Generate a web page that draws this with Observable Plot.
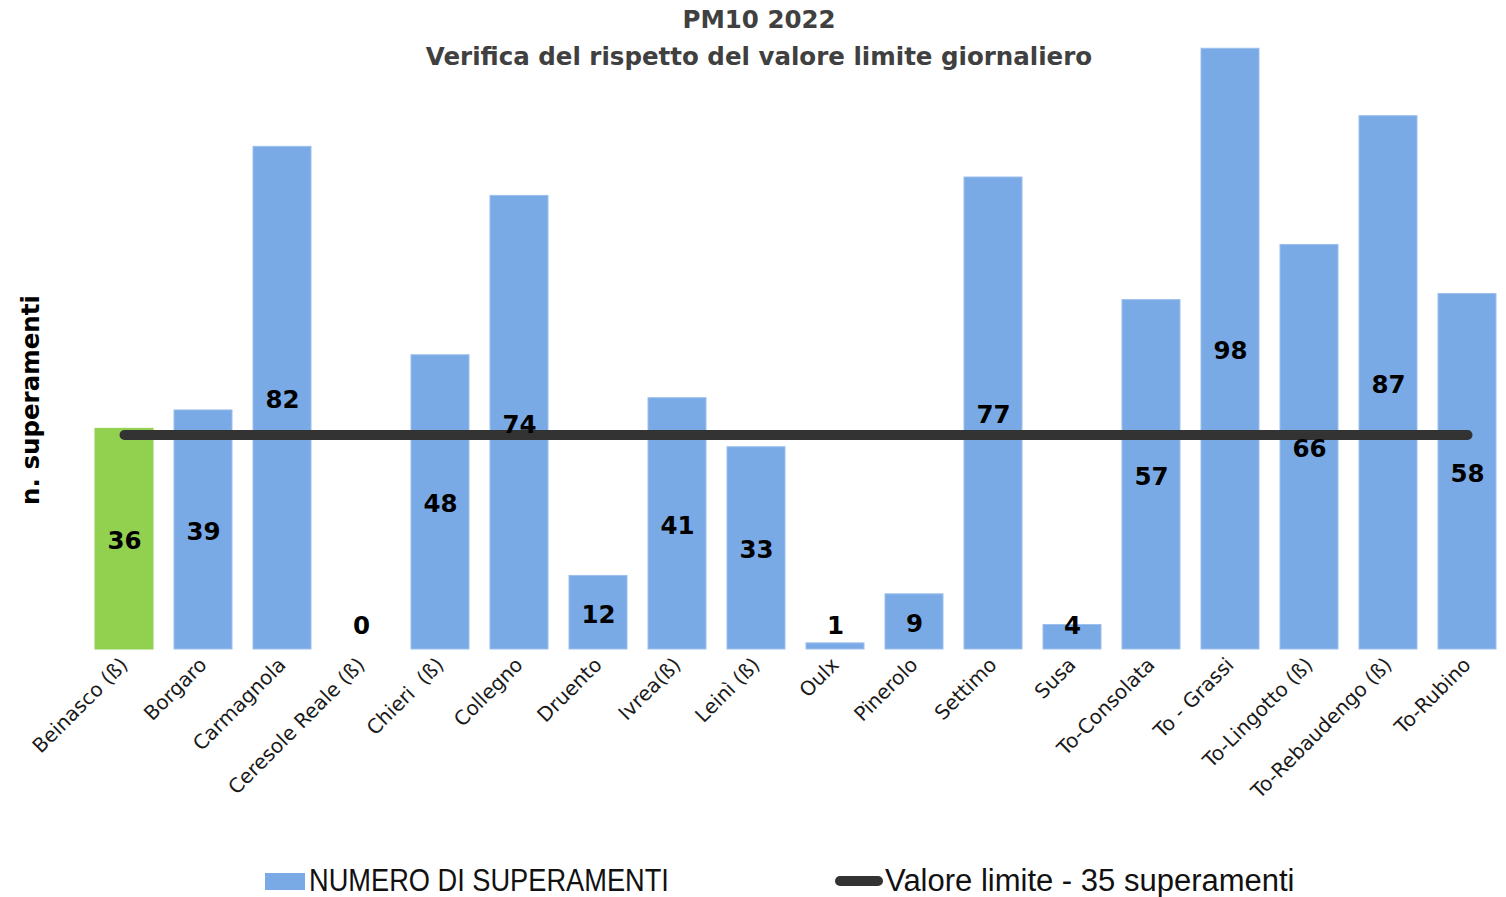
<!DOCTYPE html>
<html>
<head>
<meta charset="utf-8">
<script src="https://cdn.jsdelivr.net/npm/d3@7"></script>
<script src="https://cdn.jsdelivr.net/npm/@observablehq/plot@0.6"></script>
<style>
  html, body { margin: 0; padding: 0; background: #fff; }
  #wrap { position: relative; width: 1506px; height: 897px; overflow: hidden; }
  #title { position: absolute; left: 6px; width: 1506px; top: 1px; text-align: center;
           font-family: "DejaVu Sans", sans-serif; font-weight: bold; color: #404040;
           font-size: 24.5px; line-height: 37px; }
  #ylab { position: absolute; left: 30px; top: 400px; transform: translate(-50%, -50%) rotate(-90deg);
          white-space: nowrap; font-family: "DejaVu Sans", sans-serif; font-weight: bold; font-size: 24.5px; color: #000; }
  #legend { position: absolute; top: 862px; left: 0; width: 1506px; height: 35px;
            font-family: "Liberation Sans", sans-serif; font-size: 31px; color: #111; }
  .li { position: absolute; top: 0; display: flex; align-items: center; height: 38px; white-space: nowrap; }
  .sw-bar { width: 40px; height: 17px; background: #7AAAE5; margin-right: 4px; flex: none; }
  .sw-line { width: 48px; height: 10px; border-radius: 5px; background: #333; margin-right: 2px; flex: none; }
  #lg1 { display: inline-block; transform: scaleX(0.878); transform-origin: left center; }
</style>
</head>
<body>
<div id="wrap">
  <div id="chart"></div>
  <div id="title">PM10 2022<br>Verifica del rispetto del valore limite giornaliero</div>
  <div id="ylab">n. superamenti</div>
  <div id="legend">
    <div class="li" style="left:265px"><div class="sw-bar"></div><span id="lg1"></span></div>
    <div class="li" style="left:835px"><div class="sw-line"></div><span id="lg2"></span></div>
  </div>
</div>
<script>
const stations = ["Beinasco (ß)", "Borgaro", "Carmagnola", "Ceresole Reale (ß)", "Chieri\u00a0 (ß)", "Collegno",
  "Druento", "Ivrea(ß)", "Leinì (ß)", "Oulx", "Pinerolo", "Settimo", "Susa", "To-Consolata", "To - Grassi",
  "To-Lingotto (ß)", "To-Rebaudengo (ß)", "To-Rubino"];
const exceedances = [36, 39, 82, 0, 48, 74, 12, 41, 33, 1, 9, 77, 4, 57, 98, 66, 87, 58];
const limitValue = 35;
const highlighted = "Beinasco (ß)";
const seriesBars = "NUMERO DI SUPERAMENTI";
const seriesLine = "Valore limite - 35 superamenti";

document.getElementById("lg1").textContent = seriesBars;
document.getElementById("lg2").textContent = seriesLine;

const rows = stations.map((name, i) => ({name, value: exceedances[i]}));
const BLUE = "#7AAAE5", GREEN = "#92D050";

const chart = Plot.plot({
  width: 1506,
  height: 850,
  marginLeft: 84,
  marginRight: 0,
  marginTop: 36,
  marginBottom: 201,
  style: {fontFamily: "DejaVu Sans, sans-serif", background: "transparent", color: "#1a1a1a"},
  x: {domain: stations, paddingInner: 0.27, paddingOuter: 0.135},
  y: {domain: [0, 100], axis: null},
  marks: [
    Plot.barY(rows, {x: "name", y: "value", fill: d => d.name === highlighted ? GREEN : BLUE,
      stroke: d => d.name === highlighted ? GREEN : "#9CC0EC", strokeWidth: 1}),
    Plot.line(rows, {x: "name", y: () => limitValue, stroke: "#333", strokeWidth: 10, strokeLinecap: "round"}),
    Plot.text(rows, {x: "name", y: d => Math.max(d.value / 2, 4.2), text: d => String(d.value),
      fontSize: 24.5, fontWeight: "bold", fill: "#000", dy: 2}),
    Plot.axisX({tickRotate: -45, tickSize: 0, tickPadding: 12, fontSize: 20, label: null, fill: "#1a1a1a"})
  ]
});
document.getElementById("chart").appendChild(chart);
</script>
</body>
</html>
